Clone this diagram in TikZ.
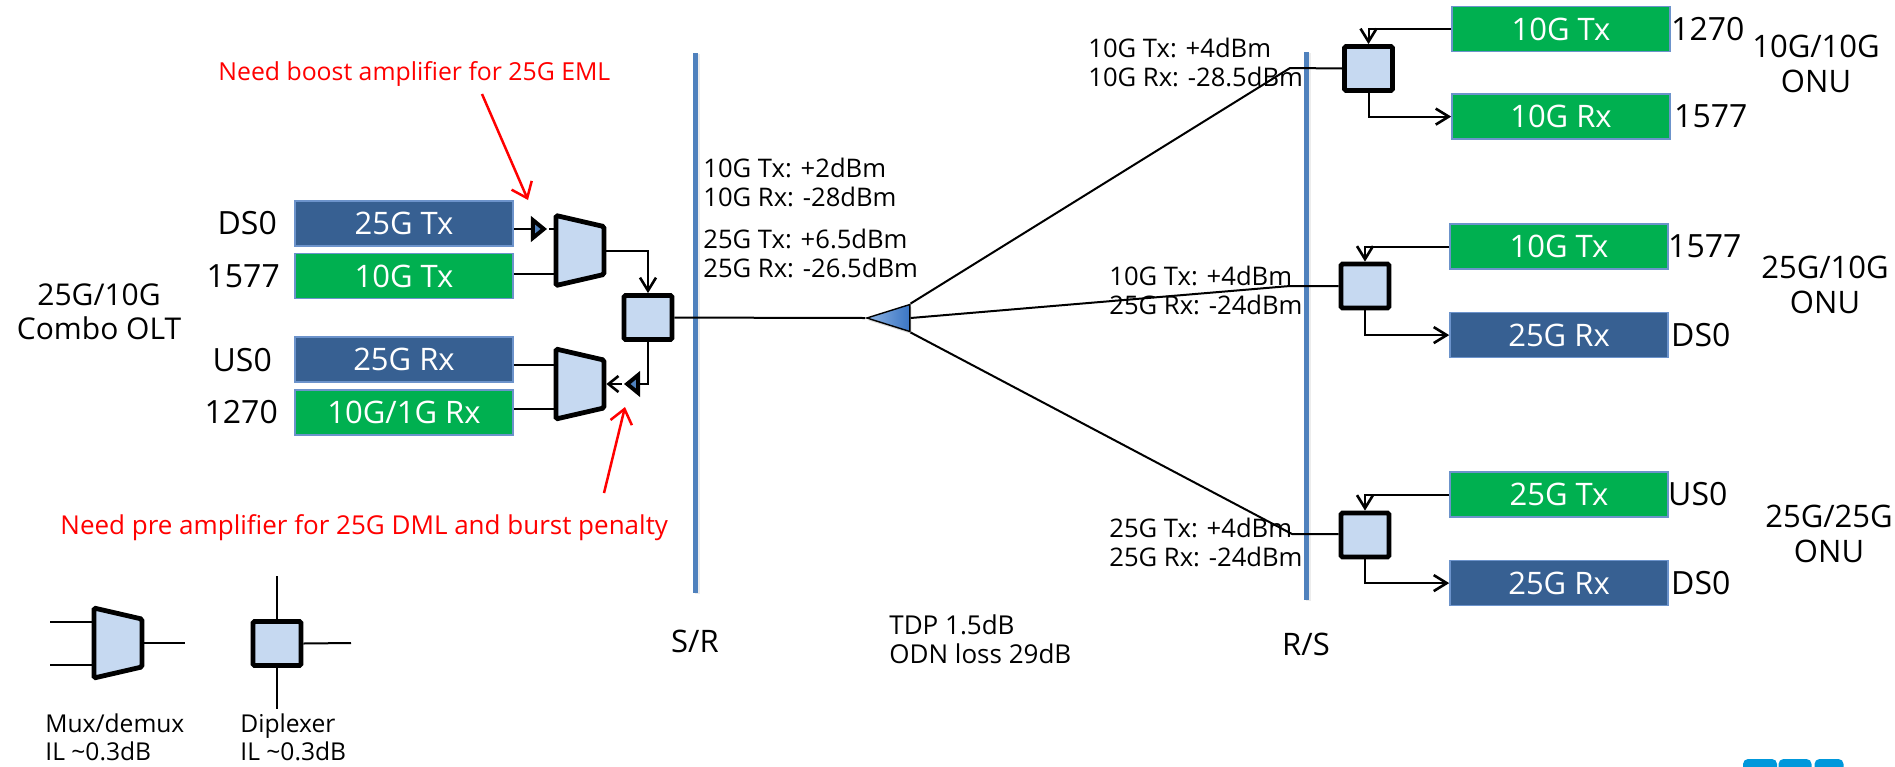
\documentclass[tikz,border=0pt]{standalone}
\usepackage{fontspec}
\setmainfont{Open Sans}
\usepackage{tikz}
\usetikzlibrary{arrows.meta,positioning,shapes.geometric,shadows}
\definecolor{barblue}{HTML}{4F81BD}
\definecolor{boxedge}{HTML}{6C93CB}
\definecolor{boxgreen}{HTML}{00B050}
\definecolor{boxblue}{HTML}{376092}
\definecolor{lightfill}{HTML}{C6D9F1}
\definecolor{logoblue}{HTML}{0098DB}
\definecolor{splitleft}{HTML}{8EB4E3}
\definecolor{splitright}{HTML}{3A75C4}

\begin{document}
\begin{tikzpicture}[
  x=0.5pt, y=-0.5pt,
  box/.style={draw=boxedge, line width=0.8pt, minimum width=109pt, minimum height=22.5pt, inner sep=0pt, text=white, font=\fontsize{15.5}{18}\selectfont},
  greenbox/.style={box, fill=boxgreen},
  bluebox/.style={box, fill=boxblue},
  dipl/.style={draw, line width=2.4pt, fill=lightfill, rounded corners=0.8pt, minimum width=24pt, minimum height=22pt, inner sep=0pt},
  mux/.style={trapezium, draw, line width=2.4pt, fill=lightfill, rounded corners=0.8pt, shape border rotate=270, trapezium stretches=true, trapezium left angle=77, trapezium right angle=77, minimum width=35pt, minimum height=24pt, inner sep=0.1pt},
  amp/.style={isosceles triangle, draw, line width=2pt, fill=barblue, isosceles triangle stretches=true, minimum width=9pt, minimum height=5.5pt, inner sep=0.1pt},
  bar/.style={fill=barblue, minimum width=2.5pt, inner sep=0pt, drop shadow={opacity=0.15, shadow xshift=1.2pt, shadow yshift=-0.6pt}},
  big/.style={inner sep=0pt, font=\fontsize{16}{18}\selectfont},
  onu/.style={big, align=center, font=\fontsize{15.5}{17.5}\selectfont},
  note/.style={inner sep=0pt, align=left, font=\fontsize{12.8}{14.5}\selectfont},
  redtext/.style={inner sep=0pt, text=red, font=\fontsize{12.4}{14}\selectfont},
  wire/.style={line width=1pt},
  arrow/.style={wire, -{Straight Barb[length=6.5pt, width=8pt, line width=1.3pt]}},
  redarrow/.style={red, line width=1.25pt, -{Straight Barb[length=7pt, width=11pt]}},
  logo/.style={fill=logoblue, rounded corners=2.5pt, minimum height=7pt, inner sep=0pt}
]
\useasboundingbox (0,0) rectangle (1895,766);

\node[greenbox, anchor=center] (utxa) at (1561,29) {10G Tx};
\node[greenbox, below=20.5pt of utxa] (urxa) {10G Rx};
\node[greenbox] (utxb) at (1559,246.5) {10G Tx};
\node[bluebox, below=21pt of utxb] (urxb) {25G Rx};
\node[greenbox] (utxc) at (1559,494.5) {25G Tx};
\node[bluebox, below=21pt of utxc] (urxc) {25G Rx};

\node[bluebox] (txa) at (404,223.5) {25G Tx};
\node[greenbox, below=3pt of txa] (txb) {10G Tx};
\node[bluebox, below=18.5pt of txb] (rxa) {25G Rx};
\node[greenbox, below=3pt of rxa] (rxb) {10G/1G Rx};

\node[big, left=8.5pt of txa] (lda) {DS0};
\node[big, left=7pt of txb] (ldb) {1577};
\node[big, left=11pt of rxa] (lua) {US0};
\node[big, left=8pt of rxb] (lub) {1270};
\node[onu, font=\fontsize{15}{17}\selectfont] (olt) at (99,312) {25G/10G\\Combo OLT};

\node[big, right=0pt of utxa] (la) {1270};
\node[big, right=1.5pt of urxa] (lb) {1577};
\node[big, right=-0.5pt of utxb] (lc) {1577};
\node[big, right=1pt of urxb] (ld) {DS0};
\node[big, right=-0.5pt of utxc] (le) {US0};
\node[big, right=1pt of urxc] (lf) {DS0};
\node[onu] (onua) at (1816,64) {10G/10G\\ONU};
\node[onu] (onub) at (1825,285) {25G/10G\\ONU};
\node[onu] (onuc) at (1829,534) {25G/25G\\ONU};

\node[bar, minimum height=270pt] (srbar) at (695,323) {};
\node[bar, minimum height=274pt] (rsbar) at (1306,326) {};
\node[note, font=\fontsize{15.5}{17}\selectfont, below=18pt of srbar] (srlabel) {S/R};
\node[note, font=\fontsize{15.5}{17}\selectfont, below=16pt of rsbar] (rslabel) {R/S};

\node[mux] (muxa) at (580,250.5) {};
\node[mux] (muxb) at (580,384) {};
\node[dipl] (dipa) at (648,317.5) {};
\node[dipl] (dipb) at (1368.5,68.5) {};
\node[dipl] (dipc) at (1365,286) {};
\node[dipl] (dipd) at (1365,535) {};
\node[amp] (ampa) at (537,229) {};
\node[amp, shape border rotate=180] (ampb) at (634,384) {};
\node[isosceles triangle, draw, line width=0.7pt, shape border rotate=180, isosceles triangle stretches=true, minimum width=13.5pt, minimum height=21.5pt, inner sep=0.1pt, left color=splitleft, right color=splitright, drop shadow={opacity=0.3, shadow xshift=0.8pt, shadow yshift=-1.2pt}] (split) at (900,318) {};

\coordinate (kinka) at (1290,68);
\coordinate (kinkb) at (1290,286);
\coordinate (kinkc) at (1292,534);

\draw[wire] (ampa.west -| txa.east) -- (ampa.west);
\draw[wire] (ampa.east) -- (ampa.east -| muxa.west);
\draw[wire] ([yshift=1.25pt]txb.east) -- ([yshift=1.25pt]txb.east -| muxa.west);
\draw[wire] ([yshift=-2.75pt]rxa.east) -- ([yshift=-2.75pt]rxa.east -| muxb.west);
\draw[wire] ([yshift=1.5pt]rxb.east) -- ([yshift=1.5pt]rxb.east -| muxb.west);
\draw[arrow] (muxa.east) -| (dipa.north);
\draw[wire, line width=1.3pt] (dipa.south) |- (ampb.east);
\draw[wire, -{Straight Barb[length=5pt, width=8pt, line width=1.3pt]}] (ampb.west) -- (ampb.west -| muxb.east);
\draw[wire] (dipa) -- (split.apex);
\draw[wire] (split.right corner) -- (kinka) -- (dipb.west);
\draw[wire] (split.lower side) -- (kinkb) -- (dipc.west);
\draw[wire] (split.left corner) -- (kinkc) -- (kinkc -| dipd.west);

\draw[arrow] (utxa.west) -| (dipb.north);
\draw[arrow] (dipb.south) |- (urxa.west);
\draw[arrow] (utxb.west) -| (dipc.north);
\draw[arrow] (dipc.south) |- (urxb.west);
\draw[arrow] (utxc.west) -| (dipd.north);
\draw[arrow] (dipd.south) |- (urxc.west);

\node[note, anchor=west] (srten) at (703,182.5) {10G Tx: +2dBm\\10G Rx: -28dBm};
\node[note, anchor=west] (srtwen) at (703,253.5) {25G Tx: +6.5dBm\\25G Rx: -26.5dBm};
\node[note, anchor=west] (rsa) at (1088,62.5) {10G Tx: +4dBm\\10G Rx: -28.5dBm};
\node[note, anchor=west] (rsb) at (1109,290) {10G Tx: +4dBm\\25G Rx: -24dBm};
\node[note, anchor=west] (rsc) at (1109,542.5) {25G Tx: +4dBm\\25G Rx: -24dBm};
\node[note, anchor=west, font=\fontsize{13}{14.5}\selectfont] (tdp) at (889,639.5) {TDP 1.5dB\\ODN loss 29dB};

\node[redtext, anchor=west] (needboost) at (218,74) {Need boost amplifier for 25G EML};
\node[redtext, anchor=west, font=\fontsize{13}{14}\selectfont] (needpre) at (60,528) {Need pre amplifier for 25G DML and burst penalty};
\coordinate (boosttail) at (482,94);
\coordinate (boosttip) at (528,200);
\coordinate (pretail) at (604,493);
\coordinate (pretip) at (625,407);
\draw[redarrow] (boosttail) -- (boosttip);
\draw[redarrow] (pretail) -- (pretip);

\node[mux] (legmux) at (118,643) {};
\node[dipl] (legdip) at (277,643.5) {};
\coordinate (legina) at (50,622);
\coordinate (leginb) at (50,665);
\coordinate (legout) at (185,643);
\coordinate (legtop) at (277,576);
\coordinate (legright) at (351,643);
\coordinate (legbot) at (277,709);
\draw[wire] (legina) -- (legina -| legmux.west);
\draw[wire] (leginb) -- (leginb -| legmux.west);
\draw[wire] (legmux.east) -- (legout);
\draw[wire] (legtop) -- (legdip.north);
\draw[wire] (legdip.east) -- (legright);
\draw[wire] (legdip.south) -- (legbot);
\node[note, anchor=west, font=\fontsize{12.3}{14.2}\selectfont] (legmuxtext) at (45,737.5) {Mux/demux\\IL \textasciitilde0.3dB};
\node[note, anchor=west, font=\fontsize{12.3}{14.2}\selectfont] (legdiptext) at (240,737.5) {Diplexer\\IL \textasciitilde0.3dB};

\node[logo, minimum width=17pt] (logoa) at (1760,766) {};
\node[logo, minimum width=16.5pt] (logob) at (1795,766) {};
\node[logo, minimum width=14.5pt] (logoc) at (1829,766) {};

\end{tikzpicture}
\end{document}
